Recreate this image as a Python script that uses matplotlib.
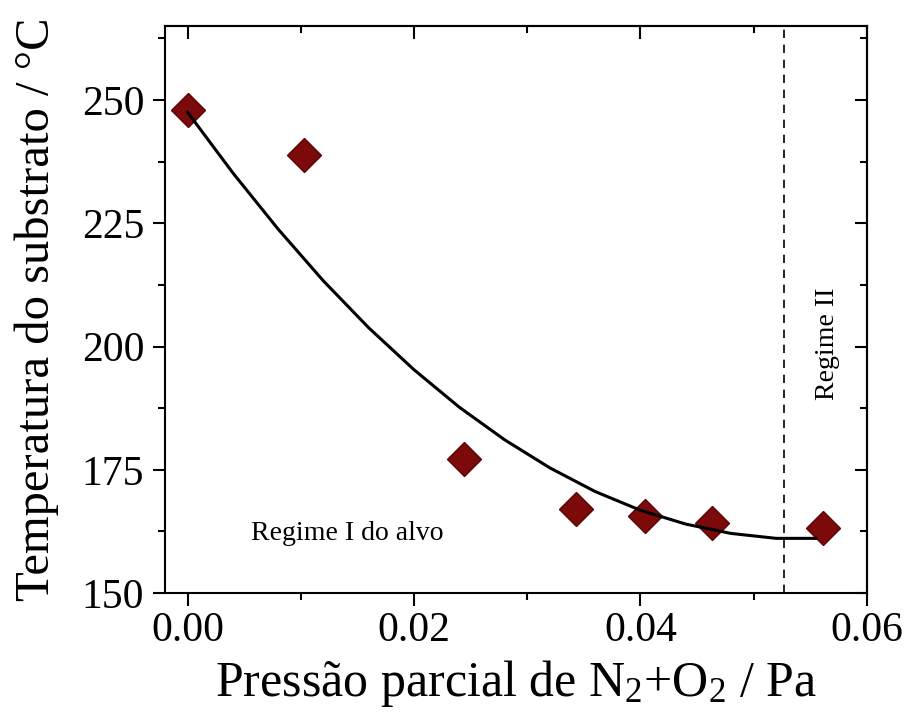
import matplotlib
matplotlib.use("Agg")
import matplotlib.pyplot as plt
from matplotlib.ticker import MultipleLocator

# measured substrate temperature vs partial pressure of N2+O2
pressure = [0.0, 0.0103, 0.0244, 0.0343, 0.0404, 0.0463, 0.0561]
temperature = [247.9, 238.9, 177.1, 167.0, 165.6, 164.2, 163.2]

# fitted curve
fit_x = [0.0, 0.004, 0.008, 0.012, 0.016, 0.020, 0.024, 0.028, 0.032,
         0.036, 0.040, 0.044, 0.048, 0.052, 0.0555]
fit_y = [247.5, 235.2, 223.8, 213.3, 203.8, 195.3, 187.7, 181.1, 175.4,
         170.6, 166.8, 164.0, 162.1, 161.1, 161.1]

regime_boundary = 0.0527

x_ticks = [0.00, 0.02, 0.04, 0.06]
y_ticks = [150, 175, 200, 225, 250]

plt.rcParams['font.family'] = ['Liberation Serif', 'DejaVu Serif']
plt.rcParams['mathtext.fontset'] = 'custom'
plt.rcParams['mathtext.rm'] = 'Liberation Serif'
plt.rcParams['mathtext.it'] = 'Liberation Serif:italic'

fig = plt.figure(figsize=(9.09, 7.12), dpi=100)
ax = fig.add_axes([0.1815, 0.167, 0.772, 0.7965])

ax.plot(pressure, temperature, linestyle='none', marker='D', markersize=17,
        markerfacecolor='#7d0a0a', markeredgecolor='#5c0505', markeredgewidth=1.0,
        zorder=2)
ax.plot(fit_x, fit_y, color='black', linewidth=2.2, zorder=3)
ax.axvline(regime_boundary, color='black', linewidth=1.2, linestyle=(0, (5, 4)), zorder=1)

ax.text(0.0141, 162.1, 'Regime I do alvo', fontsize=20, ha='center', va='center')
ax.text(0.0565, 200.5, 'Regime II', fontsize=20, rotation=90, ha='center', va='center')

ax.set_xlim(-0.002, 0.06)
ax.set_ylim(150, 265)
ax.set_xticks(x_ticks)
ax.set_xticklabels([f'{v:.2f}' for v in x_ticks])
ax.set_yticks(y_ticks)
ax.xaxis.set_minor_locator(MultipleLocator(0.01))
ax.yaxis.set_minor_locator(MultipleLocator(12.5))

ax.tick_params(which='both', direction='out', width=1.5, labelsize=30)
ax.tick_params(which='major', length=9)
ax.tick_params(which='minor', length=5)
ax.tick_params(axis='x', pad=4)
ax.tick_params(axis='y', pad=6)

# top and right axes carry inward ticks only
top = ax.secondary_xaxis('top')
top.set_xticks(x_ticks)
top.xaxis.set_minor_locator(MultipleLocator(0.01))
top.tick_params(which='both', direction='in', width=1.5, labeltop=False)
top.tick_params(which='major', length=9)
top.tick_params(which='minor', length=5)

right = ax.secondary_yaxis('right')
right.set_yticks(y_ticks)
right.yaxis.set_minor_locator(MultipleLocator(12.5))
right.tick_params(which='both', direction='in', width=1.5, labelright=False)
right.tick_params(which='major', length=9)
right.tick_params(which='minor', length=5)

for spine in list(ax.spines.values()) + [top.spines['top'], right.spines['right']]:
    spine.set_linewidth(1.5)

ax.set_xlabel('Pressão parcial de N$\\mathregular{_2}$+O$\\mathregular{_2}$ / Pa',
              fontsize=36, labelpad=6)
ax.set_ylabel('Temperatura do substrato / \u00b0C', fontsize=35, labelpad=16)

fig.savefig('out.png', dpi=100)
